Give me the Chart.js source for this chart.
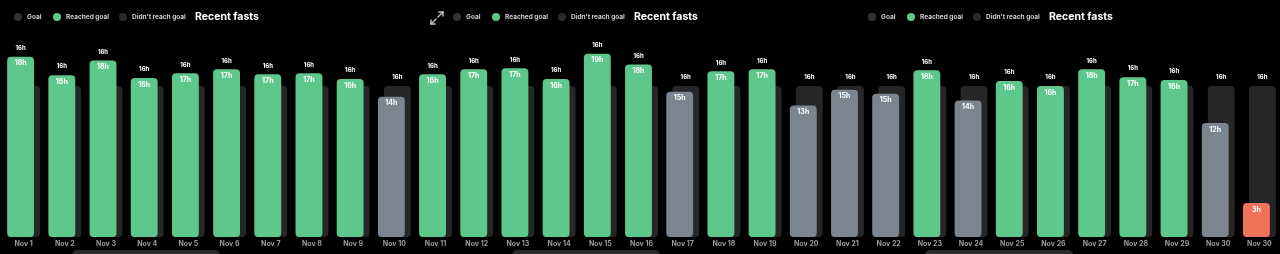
<!DOCTYPE html>
<html>
<head>
<meta charset="utf-8">
<script src="https://cdn.jsdelivr.net/npm/chart.js@4"></script>
<style>
  html, body { margin: 0; padding: 0; background: #000; }
  body { width: 1280px; height: 254px; overflow: hidden; position: relative; font-family: Inter, 'Open Sans', sans-serif; }
  #wrap { position: absolute; left: 0; top: 0; width: 1280px; height: 254px; }
  .dot { position: absolute; width: 8px; height: 8px; border-radius: 50%; top: 13px; }
  .lbl { position: absolute; top: 13px; font-size: 6.5px; font-weight: 700; color: #cfcfcf; line-height: 8px; white-space: nowrap; }
  .ttl { position: absolute; top: 10px; font-size: 10.5px; font-weight: 700; color: #fff; line-height: 14px; white-space: nowrap; }
  .pill { position: absolute; top: 250px; height: 10px; width: 148px; border-radius: 5px; background: #2c2c2c; }
  .expand { position: absolute; left: 429px; top: 10px; }
</style>
</head>
<body>
<div id="wrap"><canvas id="fasts"></canvas></div>
<svg class="expand" width="16" height="16" viewBox="0 0 16 16" fill="none" stroke="#c8c8c8" stroke-width="1.4" stroke-linecap="round" stroke-linejoin="round">
  <polyline points="10,2 14,2 14,6"></polyline><line x1="14" y1="2" x2="9" y2="7"></line>
  <polyline points="2,10 2,14 6,14"></polyline><line x1="2" y1="14" x2="7" y2="9"></line>
</svg>
<script>
const days = ['Nov 1', 'Nov 2', 'Nov 3', 'Nov 4', 'Nov 5', 'Nov 6', 'Nov 7', 'Nov 8', 'Nov 9', 'Nov 10',
  'Nov 11', 'Nov 12', 'Nov 13', 'Nov 14', 'Nov 15', 'Nov 16', 'Nov 17', 'Nov 18', 'Nov 19', 'Nov 20',
  'Nov 21', 'Nov 22', 'Nov 23', 'Nov 24', 'Nov 25', 'Nov 26', 'Nov 27', 'Nov 28', 'Nov 29', 'Nov 30', 'Nov 30'];

// fasted hours
const hours = [18.5, 16.6, 18.1, 16.3, 16.8, 17.2, 16.7, 16.8, 16.2, 14.4,
  16.7, 17.2, 17.3, 16.2, 18.8, 17.7, 14.9, 17.0, 17.2, 13.5,
  15.1, 14.7, 17.1, 14.0, 16.0, 15.5, 17.2, 16.4, 16.1, 11.7, 3.5];

// text printed inside each bar
const hourLabels = ['18h', '16h', '18h', '16h', '17h', '17h', '17h', '17h', '16h', '14h',
  '16h', '17h', '17h', '16h', '19h', '18h', '15h', '17h', '17h', '13h',
  '15h', '15h', '18h', '14h', '16h', '16h', '18h', '17h', '16h', '12h', '3h'];

const goalHours = [16, 16, 16, 16, 16, 16, 16, 16, 16, 16,
  16, 16, 16, 16, 16, 16, 16, 16, 16, 16,
  16, 16, 16, 16, 16, 16, 16, 16, 16, 16, 16];

// r = reached goal, m = missed, c = current fast
const status = ['r', 'r', 'r', 'r', 'r', 'r', 'r', 'r', 'r', 'm',
  'r', 'r', 'r', 'r', 'r', 'r', 'm', 'r', 'r', 'm',
  'm', 'm', 'r', 'm', 'r', 'r', 'r', 'r', 'r', 'm', 'c'];

const legendItems = ['Goal', 'Reached goal', "Didn't reach goal"];
const title = 'Recent fasts';

const colors = { r: '#5ec78b', m: '#7b858f', c: '#ef735b', goal: '#262626' };

// legend + title copies across the strip
const legendDots = ['#333333', colors.r, '#2a2a2a'];
[18, 457, 872].forEach(cx => {
  const offs = [0, 39, 105];
  const txt = [9, 48, 114];
  legendItems.forEach((name, i) => {
    const d = document.createElement('div');
    d.className = 'dot';
    d.style.left = (cx + offs[i] - 4) + 'px';
    d.style.background = legendDots[i];
    document.body.appendChild(d);
    const t = document.createElement('div');
    t.className = 'lbl';
    t.style.left = (cx + txt[i]) + 'px';
    t.textContent = name;
    document.body.appendChild(t);
  });
  const h = document.createElement('div');
  h.className = 'ttl';
  h.style.left = (cx + 177) + 'px';
  h.textContent = title;
  document.body.appendChild(h);
});
[72, 512, 925].forEach(x => {
  const p = document.createElement('div');
  p.className = 'pill';
  p.style.left = x + 'px';
  document.body.appendChild(p);
});

const barLabels = {
  id: 'barLabels',
  afterDatasetsDraw(chart) {
    const ctx = chart.ctx;
    const fast = chart.getDatasetMeta(0).data;
    const goal = chart.getDatasetMeta(1).data;
    ctx.save();
    ctx.textAlign = 'center';
    ctx.textBaseline = 'middle';
    ctx.fillStyle = '#ffffff';
    fast.forEach((bar, i) => {
      ctx.font = '700 7px Inter';
      ctx.fillText(hourLabels[i], bar.x, bar.y + 6.5);
      const g = goal[i];
      const top = Math.min(bar.y, g.y);
      const x = bar.y <= g.y ? bar.x : g.x;
      ctx.font = '700 6px Inter';
      ctx.fillText(goalHours[i] + 'h', x, top - 8.5);
    });
    ctx.restore();
  }
};

new Chart(document.getElementById('fasts'), {
  type: 'bar',
  data: {
    labels: days,
    datasets: [{
      label: 'Fast',
      data: hours,
      backgroundColor: status.map(s => colors[s]),
      borderRadius: 4,
      borderSkipped: false,
      categoryPercentage: 0.29,
      barPercentage: 4.5,
      yAxisID: 'y',
      order: 1
    }, {
      label: 'Goal',
      data: goalHours,
      backgroundColor: colors.goal,
      borderRadius: 4,
      borderSkipped: false,
      categoryPercentage: 0.29,
      barPercentage: 4.5,
      yAxisID: 'yGoal',
      order: 2
    }]
  },
  options: {
    responsive: true,
    maintainAspectRatio: false,
    animation: false,
    layout: { padding: { top: 3, left: 3, right: 0, bottom: 2.5 } },
    plugins: { legend: { display: false }, tooltip: { enabled: false } },
    scales: {
      x: {
        grid: { display: false, drawTicks: false },
        border: { display: false },
        ticks: {
          color: '#9c9c9c',
          font: { family: 'Inter', size: 7, weight: '700' },
          padding: 3,
          autoSkip: false,
          maxRotation: 0
        }
      },
      y: { display: false, min: 0, max: 24 },
      yGoal: { display: false, min: 0, max: 24.8 }
    }
  },
  plugins: [barLabels]
});
</script>
</body>
</html>
